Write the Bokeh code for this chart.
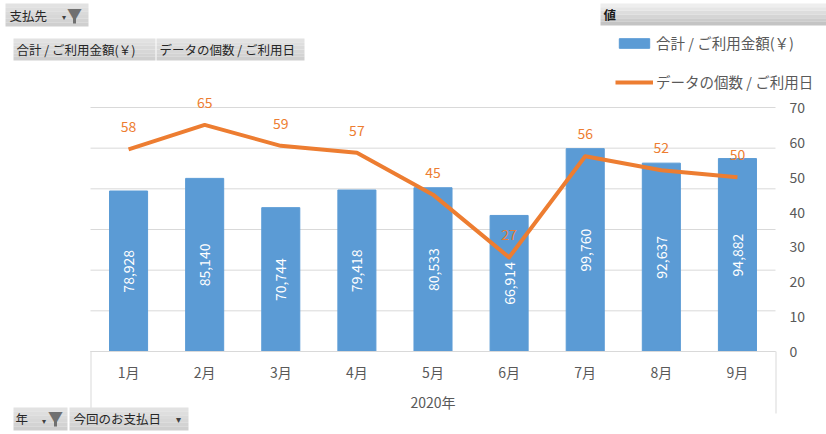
from math import pi
from bokeh.plotting import figure
from bokeh.models import (Range1d, LinearAxis, FixedTicker, ColumnDataSource,
                          Legend, LegendItem, BoxAnnotation, Label)
from bokeh.core.properties import value
from bokeh.embed import file_html
from bokeh.resources import INLINE

# ---------------- data ----------------
year = "2020年"
months = ["1月", "2月", "3月", "4月", "5月", "6月", "7月", "8月", "9月"]
amounts = [78928, 85140, 70744, 79418, 80533, 66914, 99760, 92637, 94882]
counts = [58, 65, 59, 57, 45, 27, 56, 52, 50]
amount_ticks = [0, 20000, 40000, 60000, 80000, 100000, 120000]
count_ticks = [0, 10, 20, 30, 40, 50, 60, 70]
series_names = ["合計 / ご利用金額(￥)", "データの個数 / ご利用日"]
filter_fields = ["支払先", "値"]
axis_fields = ["年", "今回のお支払日"]

FONT = "Noto Sans CJK JP"
GRAY = "#595959"
BLUE = "#5B9BD5"
ORANGE = "#ED7D31"

# ---------------- layout constants (pixels) ----------------
W, H = 826, 434
PL, PR, PT, PB = 90, 775, 107, 351          # plot area in canvas pixels
n = len(months)
amt_max, cnt_max = amount_ticks[-1], count_ticks[-1]
cw = (PR - PL) / n
x_start = -0.5 - PL / cw
x_end = n - 0.5 + (W - PR) / cw
ph = PB - PT
y_start = -(H - PB) * amt_max / ph
y_end = amt_max + PT * amt_max / ph
c_start = -(H - PB) * cnt_max / ph
c_end = cnt_max + PT * cnt_max / ph

xs = list(range(n))
src = ColumnDataSource(dict(
    x=xs,
    amount=amounts,
    mid=[a / 2 for a in amounts],
    amount_label=[f"{a:,}" for a in amounts],
    count=counts,
    count_label=[str(c) for c in counts],
))

p = figure(width=W, height=H,
           x_range=Range1d(x_start, x_end), y_range=Range1d(y_start, y_end),
           x_axis_type=None, y_axis_type=None,
           output_backend="svg", toolbar_location=None, min_border=0)
p.extra_y_ranges = {"cnt": Range1d(c_start, c_end)}
p.outline_line_color = None
p.background_fill_color = "white"
p.border_fill_color = "white"

# horizontal gridlines across the plot area
p.segment(x0=-0.5, x1=n - 0.5, y0=amount_ticks, y1=amount_ticks,
          line_color="#D9D9D9", line_width=1)

# x axis (months, year as group label)
xa = LinearAxis(fixed_location=0, bounds=(-0.5, n - 0.5),
                ticker=FixedTicker(ticks=xs),
                major_label_overrides={i: m for i, m in enumerate(months)},
                axis_label=year,
                axis_line_color="#D9D9D9", major_tick_line_color=None,
                minor_tick_line_color=None, major_tick_out=0, major_tick_in=0,
                minor_tick_out=0, minor_tick_in=0,
                major_label_standoff=10, major_label_text_color=GRAY,
                major_label_text_font=FONT, major_label_text_font_size="14px",
                axis_label_standoff=7, axis_label_text_color=GRAY,
                axis_label_text_font=FONT, axis_label_text_font_size="14px",
                axis_label_text_font_style="normal")
p.add_layout(xa, "below")

# right axis (counts)
ya = LinearAxis(y_range_name="cnt", fixed_location=n - 0.5, bounds=(0, cnt_max),
                ticker=FixedTicker(ticks=count_ticks),
                axis_line_color=None, major_tick_line_color=None,
                minor_tick_line_color=None, major_tick_out=0, major_tick_in=0,
                minor_tick_out=0, minor_tick_in=0,
                major_label_standoff=14, major_label_text_color=GRAY,
                major_label_text_font=FONT, major_label_text_font_size="14px")
p.add_layout(ya, "right")

# glyphs
bars = p.vbar(x="x", top="amount", width=0.5, source=src,
              fill_color=BLUE, line_color=BLUE)
line = p.line(x="x", y="count", source=src, y_range_name="cnt",
              line_width=4, line_color=ORANGE, line_join="round")
p.text(x="x", y="mid", text="amount_label", source=src, angle=pi / 2,
       text_align="center", text_baseline="middle", text_color="white",
       text_font=value(FONT), text_font_size="14px")
p.text(x="x", y="count", text="count_label", source=src, y_range_name="cnt",
       text_align="center", text_baseline="bottom", y_offset=-17,
       text_color=ORANGE, text_font=value(FONT), text_font_size="14px")


def sy(Y):
    return H - Y


def box(x0, x1, Y0, Y1, color):
    p.add_layout(BoxAnnotation(left=x0, right=x1, top=sy(Y0), bottom=sy(Y1),
                               left_units="screen", right_units="screen",
                               top_units="screen", bottom_units="screen",
                               fill_color=color, fill_alpha=1, line_color=None))


# category axis border lines
for l in (PL, PR):
    box(l, l + 1, PB, 413, "#D9D9D9")

# legend
legend = Legend(items=[LegendItem(label=series_names[0], renderers=[bars]),
                       LegendItem(label=series_names[1], renderers=[line])],
                location=(615, sy(92)), orientation="vertical",
                glyph_width=38, glyph_height=12, label_height=20, spacing=18,
                padding=0, margin=0, border_line_color=None, background_fill_alpha=0,
                label_text_font=FONT, label_text_font_size="14.5px",
                label_text_color=GRAY, label_standoff=3)
p.add_layout(legend)


def mix(c1, c2, t):
    a = [int(c1[i:i + 2], 16) for i in (1, 3, 5)]
    b = [int(c2[i:i + 2], 16) for i in (1, 3, 5)]
    return "#%02x%02x%02x" % tuple(round(a[k] + (b[k] - a[k]) * t) for k in range(3))


def button(x0, x1, Y0, Y1, c_top="#E2E2E2", c_bot="#CFCFCF", steps=6):
    h = (Y1 - Y0) / steps
    for i in range(steps):
        box(x0, x1, Y0 + i * h, Y0 + (i + 1) * h, mix(c_top, c_bot, i / (steps - 1)))


def label(text, x, Y, size="12.5px", color="#262626", align="left", style="normal"):
    p.add_layout(Label(x=x, y=sy(Y), x_units="screen", y_units="screen", text=text,
                       text_font=FONT, text_font_size=size, text_color=color,
                       text_align=align, text_baseline="middle", text_font_style=style))


def funnel(cx, Ytop):
    label("▼", cx, Ytop + 4, size="15px", color="#707070", align="center")
    box(cx - 1.5, cx + 1.5, Ytop + 7, Ytop + 14, "#707070")


# pivot field buttons
button(5, 88, 3, 26)
label(filter_fields[0], 9, 15)
label("▾", 63, 16, size="8px", color="#404040", align="center")
funnel(74, 9)

button(13, 155, 38, 60)
label(series_names[0], 16, 49)
button(156, 304, 38, 60)
label(series_names[1], 159, 49)

button(600, 826, 3, 25, c_top="#EEEEEE", c_bot="#C4C4C4")
label(filter_fields[1], 603, 14, style="bold", color="#1A1A1A")

button(13, 67, 407, 430)
label(axis_fields[0], 15, 418)
label("▾", 43, 420, size="8px", color="#404040", align="center")
funnel(55, 412)
button(69, 188, 407, 430)
label(axis_fields[1], 73, 418)
label("▾", 178, 418, size="10px", color="#404040", align="center")

open("out.html", "w").write(file_html(p, INLINE))
